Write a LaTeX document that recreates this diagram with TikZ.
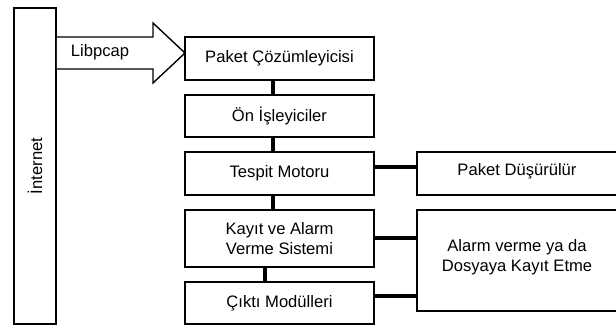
\documentclass[tikz,border=0pt]{standalone}
\usepackage{fontspec}
\setmainfont{Liberation Sans}
\begin{document}
\begin{tikzpicture}[x=1bp,y=-1bp,
  txt/.style={font=\fontsize{16.6bp}{19.5bp}\selectfont,align=center},
  box/.style={draw=black,line width=1.8bp,rectangle,inner sep=0pt,txt},
  link/.style={draw=black,line width=4bp},
  bigarrow/.style={draw=black,line width=1.4bp,line join=miter,fill=white}]
\useasboundingbox (0,0) rectangle (616,327);

% Internet column
\node[box,minimum width=42bp,minimum height=316bp] (inet) at (35,166)
  {\rotatebox{90}{İnternet}};

% processing chain
\node[box,minimum width=189bp,minimum height=43bp] (pc) at (279.5,58.5) {Paket Çözümleyicisi};
\node[box,minimum width=189bp,minimum height=42bp] (on) at (279.5,116) {Ön İşleyiciler};
\node[box,minimum width=189bp,minimum height=43bp] (ts) at (279.5,173.5) {Tespit Motoru};
\node[box,minimum width=189bp,minimum height=57bp] (ka) at (279.5,238.5) {Kayıt ve Alarm\\Verme Sistemi};
\node[box,minimum width=189bp,minimum height=42bp] (co) at (279.5,303) {Çıktı Modülleri};

% outcomes on the right (running off the right edge)
\node[box,minimum width=201bp,minimum height=43bp] (pd) at (517.5,173.5) {};
\node[txt] (pdt) at (517,171) {Paket Düşürülür};
\node[box,minimum width=201bp,minimum height=101bp] (al) at (517.5,260.5) {};
\node[txt] (alt) at (517,257) {Alarm verme ya da\\Dosyaya Kayıt Etme};

% Libpcap block arrow
\coordinate (tip) at (185,53);
\path[bigarrow] (inet.east |- 0,37) -- (153,37) -- (153,23) -- (tip)
  -- (153,83) -- (153,69) -- (inet.east |- 0,69);
\node[txt] (lib) at (100,52) {Libpcap};

% vertical links
\coordinate (xa) at (273,0);
\coordinate (xb) at (265,0);
\draw[link] (pc.south -| xa) -- (on.north -| xa);
\draw[link] (on.south -| xa) -- (ts.north -| xa);
\draw[link] (ts.south -| xa) -- (ka.north -| xa);
\draw[link] (ka.south -| xb) -- (co.north -| xb);

% horizontal links
\coordinate (y1) at (0,166.5);
\coordinate (y2) at (0,238);
\coordinate (y3) at (0,295.5);
\draw[link] (ts.east |- y1) -- (pd.west |- y1);
\draw[link] (ka.east |- y2) -- (al.west |- y2);
\draw[link] (co.east |- y3) -- (al.west |- y3);
\end{tikzpicture}
\end{document}
